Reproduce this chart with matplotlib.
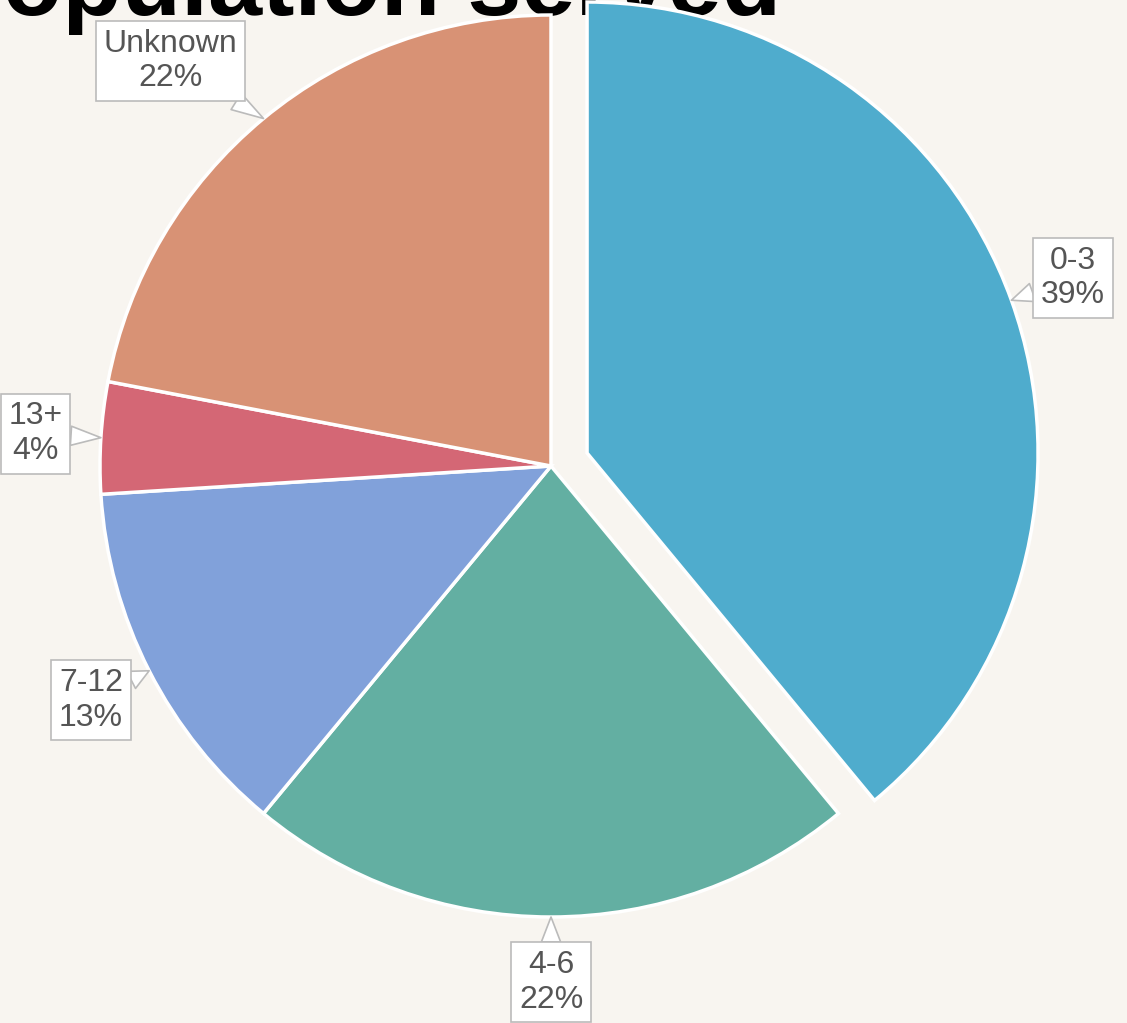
import numpy as np
import matplotlib
matplotlib.use("Agg")
from matplotlib import pyplot as plt

# data
categories = ['0-3', '4-6', '7-12', '13+', 'Unknown']
shares = [39, 22, 13, 4, 22]
colors = ['#4FACCD', '#63AFA2', '#81A1DA', '#D46775', '#D89275']
explode = [0.085, 0, 0, 0, 0]

title = 'Population served'

# label placement (in pie radii) along each slice's middle angle
label_dist = 1.145
label_nudge = [(0, 0), (0, 0), (0, 0), (0, 0), (-0.113, 0.016)]

plt.rcParams['font.family'] = ['Liberation Sans', 'DejaVu Sans']
bg = '#F8F5F0'

fig = plt.figure(figsize=(11.27, 10.23), dpi=100, facecolor=bg)
ax = fig.add_axes([0, 0, 1, 1], zorder=1)
ax.patch.set_alpha(0)

# big title, partly cut off at the top and hidden behind the pie
fig.text(-62 / 1127, 1 - 15 / 1023, title, ha='left', va='baseline',
         fontsize=70, fontweight='bold', color='black', zorder=0)

wedges, _ = ax.pie(shares, colors=colors, explode=explode, startangle=90,
                   counterclock=False, radius=1,
                   wedgeprops=dict(edgecolor='white', linewidth=2.5))

for w, cat, val, (nx, ny) in zip(wedges, categories, shares, label_nudge):
    mid = np.deg2rad((w.theta1 + w.theta2) / 2)
    cx, cy = w.center
    tip = (cx + w.r * np.cos(mid), cy + w.r * np.sin(mid))
    pos = (cx + label_dist * np.cos(mid) + nx, cy + label_dist * np.sin(mid) + ny)
    ax.annotate(f'{cat}\n{val}%', xy=tip, xytext=pos,
                ha='center', va='center', fontsize=23, color='#555555',
                linespacing=1.2,
                bbox=dict(boxstyle='square,pad=0.24', fc='white', ec='#BBBBBB', lw=1.2),
                arrowprops=dict(arrowstyle='wedge,tail_width=0.6,shrink_factor=0.5',
                                fc='white', ec='#BBBBBB', lw=1.2,
                                shrinkA=0, shrinkB=0),
                zorder=5)

# pie centre at (551, 466) px, radius 451 px
px = 451.0
ax.set_xlim(-551 / px, (1127 - 551) / px)
ax.set_ylim(-(1023 - 466) / px, 466 / px)
ax.set_aspect('equal', adjustable='datalim')
ax.axis('off')

fig.savefig('out.png', dpi=100, facecolor=bg)
